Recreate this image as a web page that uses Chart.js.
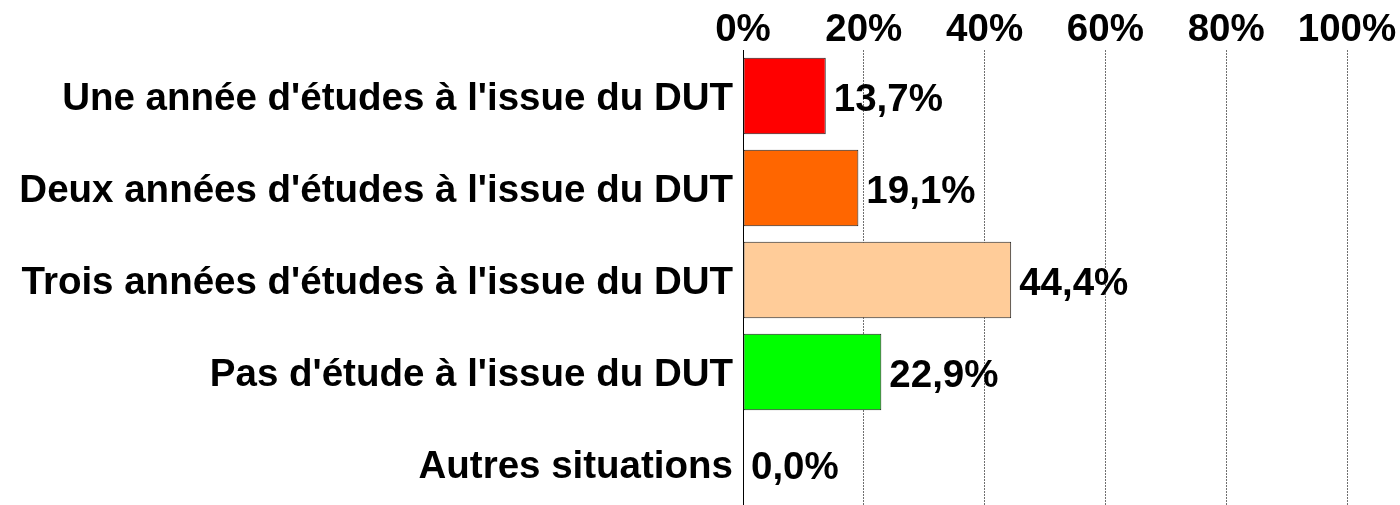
<!DOCTYPE html>
<html lang="fr">
<head>
  <meta charset="UTF-8">
  <title>Poursuite d'études après le DUT</title>
  <script src="https://cdn.jsdelivr.net/npm/chart.js"></script>
  <style>
    body {
      margin: 0;
      background-color: #ffffff;
      overflow: hidden;
    }
  </style>
</head>
<body>
  <canvas id="studiesChart" width="1400" height="512"></canvas>

  <script>
    // Chart data
    var categories = [
      "Une année d'études à l'issue du DUT",
      "Deux années d'études à l'issue du DUT",
      "Trois années d'études à l'issue du DUT",
      "Pas d'étude à l'issue du DUT",
      "Autres situations"
    ];
    var shares = [13.7, 19.1, 44.4, 22.9, 0.0];
    var tickValues = [0, 20, 40, 60, 80, 100];
    var barColors = ['#ff0000', '#ff6600', '#ffcc99', '#00ff00', '#ffffff'];

    var labelFont = { family: "'Liberation Sans', Arial, sans-serif", size: 38.5, weight: 'bold' };

    // value labels at the end of each bar, French decimal comma
    var valueLabels = {
      id: 'valueLabels',
      afterDatasetsDraw: function (chart) {
        var ctx = chart.ctx;
        var meta = chart.getDatasetMeta(0);
        ctx.save();
        ctx.font = 'bold 38.5px "Liberation Sans", Arial, sans-serif';
        ctx.fillStyle = '#000000';
        ctx.textAlign = 'left';
        ctx.textBaseline = 'middle';
        meta.data.forEach(function (bar, i) {
          var txt = shares[i].toFixed(1).replace('.', ',') + '%';
          ctx.fillText(txt, bar.x + 8, bar.y + 4);
        });
        ctx.restore();
      }
    };

    var ctx = document.getElementById('studiesChart').getContext('2d');
    var studiesChart = new Chart(ctx, {
      type: 'bar',
      data: {
        labels: categories,
        datasets: [{
          data: shares,
          backgroundColor: barColors,
          borderColor: '#222222',
          borderWidth: 1,
          borderSkipped: false,
          barPercentage: 0.83,
          categoryPercentage: 1
        }]
      },
      options: {
        indexAxis: 'y',
        responsive: false,
        animation: false,
        layout: { padding: { top: 0, right: 53, bottom: 2, left: 0 } },
        plugins: {
          legend: { display: false },
          tooltip: { enabled: false }
        },
        scales: {
          x: {
            position: 'top',
            min: 0,
            max: 100,
            afterBuildTicks: function (scale) {
              scale.ticks = tickValues.map(function (v) { return { value: v }; });
            },
            afterFit: function (scale) { scale.height = 50; },
            grid: {
              color: '#707070',
              lineWidth: 1,
              drawTicks: false
            },
            border: { display: false, dash: [2, 1] },
            ticks: {
              padding: -3,
              color: '#000000',
              font: labelFont,
              maxRotation: 0,
              callback: function (v) { return v + '%'; }
            }
          },
          y: {
            afterFit: function (scale) {
              scale.width = 743;
              // labels sit in the bands, no extra room needed above/below
              scale.paddingTop = 0;
              scale.paddingBottom = 0;
            },
            grid: { display: false, drawTicks: false },
            border: { display: true, color: '#000000', width: 1 },
            ticks: {
              padding: 10,
              labelOffset: 3,
              color: '#000000',
              font: labelFont,
              autoSkip: false
            }
          }
        }
      },
      plugins: [valueLabels]
    });
  </script>
</body>
</html>
